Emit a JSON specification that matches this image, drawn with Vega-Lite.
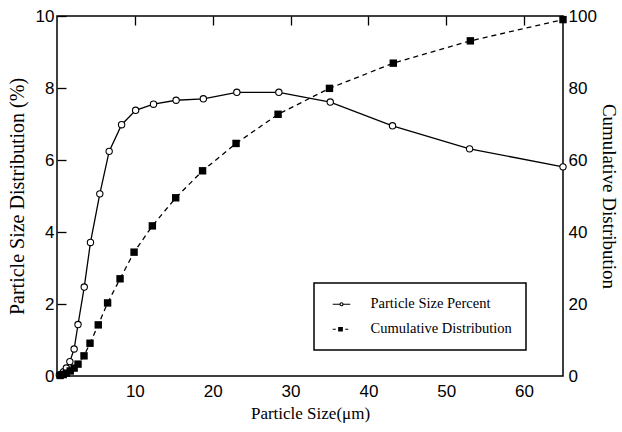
{
  "$schema": "https://vega.github.io/schema/vega-lite/v6.json",
  "width": 506,
  "height": 360,
  "autosize": {"type": "none"},
  "padding": {"left": 57, "top": 16, "right": 59, "bottom": 56},
  "background": "white",
  "config": {
    "view": {"stroke": "black", "strokeWidth": 1.5},
    "axis": {
      "grid": true,
      "gridColor": "black",
      "gridWidth": 1.3,
      "gridOpacity": 1,
      "domain": false,
      "ticks": false,
      "labelColor": "black",
      "titleColor": "black",
      "labelFont": "Liberation Sans",
      "labelFontSize": 17,
      "titleFont": "Liberation Serif",
      "titleFontWeight": "normal"
    },
    "legend": {"strokeWidth": 1.5}
  },
  "data": {
    "values": [
      {"series": "Particle Size Percent", "size": 0.3, "value": 0.03},
      {"series": "Particle Size Percent", "size": 0.6, "value": 0.06},
      {"series": "Particle Size Percent", "size": 0.85, "value": 0.12},
      {"series": "Particle Size Percent", "size": 1.2, "value": 0.22},
      {"series": "Particle Size Percent", "size": 1.65, "value": 0.4},
      {"series": "Particle Size Percent", "size": 2.2, "value": 0.75},
      {"series": "Particle Size Percent", "size": 2.7, "value": 1.43},
      {"series": "Particle Size Percent", "size": 3.5, "value": 2.47},
      {"series": "Particle Size Percent", "size": 4.3, "value": 3.71},
      {"series": "Particle Size Percent", "size": 5.5, "value": 5.06},
      {"series": "Particle Size Percent", "size": 6.7, "value": 6.24},
      {"series": "Particle Size Percent", "size": 8.3, "value": 6.98},
      {"series": "Particle Size Percent", "size": 10.1, "value": 7.38},
      {"series": "Particle Size Percent", "size": 12.4, "value": 7.55},
      {"series": "Particle Size Percent", "size": 15.3, "value": 7.66},
      {"series": "Particle Size Percent", "size": 18.8, "value": 7.7},
      {"series": "Particle Size Percent", "size": 23.1, "value": 7.88},
      {"series": "Particle Size Percent", "size": 28.5, "value": 7.88},
      {"series": "Particle Size Percent", "size": 35.1, "value": 7.61},
      {"series": "Particle Size Percent", "size": 43.1, "value": 6.95},
      {"series": "Particle Size Percent", "size": 53.0, "value": 6.31},
      {"series": "Particle Size Percent", "size": 65.0, "value": 5.81},
      {"series": "Cumulative Distribution", "size": 0.4, "value": 0.15},
      {"series": "Cumulative Distribution", "size": 0.8, "value": 0.4},
      {"series": "Cumulative Distribution", "size": 1.2, "value": 0.8},
      {"series": "Cumulative Distribution", "size": 1.7, "value": 1.4},
      {"series": "Cumulative Distribution", "size": 2.2, "value": 2.2},
      {"series": "Cumulative Distribution", "size": 2.7, "value": 3.3},
      {"series": "Cumulative Distribution", "size": 3.47, "value": 5.6},
      {"series": "Cumulative Distribution", "size": 4.24, "value": 9.1},
      {"series": "Cumulative Distribution", "size": 5.3, "value": 14.2},
      {"series": "Cumulative Distribution", "size": 6.5, "value": 20.3},
      {"series": "Cumulative Distribution", "size": 8.1, "value": 27.0},
      {"series": "Cumulative Distribution", "size": 9.9, "value": 34.4},
      {"series": "Cumulative Distribution", "size": 12.25, "value": 41.7},
      {"series": "Cumulative Distribution", "size": 15.25, "value": 49.5},
      {"series": "Cumulative Distribution", "size": 18.7, "value": 57.0},
      {"series": "Cumulative Distribution", "size": 23.0, "value": 64.6},
      {"series": "Cumulative Distribution", "size": 28.4, "value": 72.7},
      {"series": "Cumulative Distribution", "size": 35.0, "value": 79.9},
      {"series": "Cumulative Distribution", "size": 43.2, "value": 86.9},
      {"series": "Cumulative Distribution", "size": 53.1, "value": 93.1},
      {"series": "Cumulative Distribution", "size": 65.0, "value": 99.0}
    ]
  },
  "layer": [
    {
      "transform": [{"filter": "datum.series === 'Particle Size Percent'"}],
      "mark": {"type": "line", "color": "black", "strokeWidth": 1.3},
      "encoding": {
        "x": {"field": "size", "type": "quantitative", "scale": {"domain": [0, 65], "nice": false},
          "axis": {"orient": "bottom", "values": [10, 20, 30, 40, 50, 60], "gridDash": [9, 1000], "labelPadding": 7, "title": "Particle Size(μm)", "titleFontSize": 17, "titlePadding": 6}},
        "y": {"field": "value", "type": "quantitative", "scale": {"domain": [0, 10], "nice": false},
          "axis": {"orient": "left", "values": [0, 2, 4, 6, 8, 10], "gridDash": [9, 1000], "labelPadding": 3, "title": "Particle Size Distribution (%)", "titleFontSize": 20, "titlePadding": 8}}
      }
    },
    {
      "transform": [{"filter": "datum.series === 'Particle Size Percent'"}],
      "mark": {"type": "point", "shape": "circle", "filled": true, "fill": "white", "stroke": "black", "strokeWidth": 1.1, "size": 40, "opacity": 1},
      "encoding": {
        "x": {"field": "size", "type": "quantitative", "scale": {"domain": [0, 65], "nice": false},
          "axis": {"orient": "bottom", "values": [5, 15, 25, 35, 45, 55], "gridDash": [5, 1000], "labels": false, "title": null}},
        "y": {"field": "value", "type": "quantitative", "scale": {"domain": [0, 10], "nice": false},
          "axis": {"orient": "left", "values": [1, 3, 5, 7, 9], "gridDash": [5, 1000], "labels": false, "title": null}}
      }
    },
    {
      "transform": [{"filter": "datum.series === 'Cumulative Distribution'"}],
      "mark": {"type": "line", "color": "black", "strokeWidth": 1.3, "strokeDash": [5, 4]},
      "encoding": {
        "x": {"field": "size", "type": "quantitative", "scale": {"domain": [0, 65], "nice": false},
          "axis": {"orient": "top", "values": [10, 20, 30, 40, 50, 60], "gridDash": [9, 1000], "labels": false, "title": null}},
        "y": {"field": "value", "type": "quantitative", "scale": {"domain": [0, 100], "nice": false},
          "axis": {"orient": "right", "values": [0, 20, 40, 60, 80, 100], "gridDash": [9, 1000], "labelPadding": 5, "title": "Cumulative Distribution", "titleFontSize": 19, "titlePadding": 2}}
      }
    },
    {
      "transform": [{"filter": "datum.series === 'Cumulative Distribution'"}],
      "mark": {"type": "point", "shape": "square", "filled": true, "color": "black", "size": 55, "opacity": 1},
      "encoding": {
        "x": {"field": "size", "type": "quantitative", "scale": {"domain": [0, 65], "nice": false},
          "axis": {"orient": "top", "values": [5, 15, 25, 35, 45, 55], "gridDash": [5, 1000], "labels": false, "title": null}},
        "y": {"field": "value", "type": "quantitative", "scale": {"domain": [0, 100], "nice": false},
          "axis": {"orient": "right", "values": [10, 30, 50, 70, 90], "gridDash": [5, 1000], "labels": false, "title": null}}
      }
    },
    {
      "mark": {"type": "point", "opacity": 0, "stroke": "black", "strokeWidth": 1},
      "encoding": {
        "x": {"field": "size", "type": "quantitative", "scale": {"domain": [0, 65], "nice": false}, "axis": null},
        "y": {"field": "value", "type": "quantitative", "scale": {"domain": [0, 100], "nice": false}, "axis": null},
        "shape": {
          "field": "series", "type": "nominal",
          "scale": {"domain": ["Particle Size Percent", "Cumulative Distribution"],
            "range": ["M-0.5,0H0.95M1.55,0H3.0M0.95,0A0.3,0.3 0 1 1 1.55,0A0.3,0.3 0 1 1 0.95,0Z",
                      "M-0.5,0H0.1M0.7,-0.35H1.4V0.35H0.7ZM2.0,0H2.6"]},
          "legend": {
            "orient": "none", "legendX": 257, "legendY": 267, "title": null,
            "fillColor": "white", "strokeColor": "black",
            "padding": 14, "rowPadding": 10, "labelOffset": 28,
            "labelFont": "Liberation Serif", "labelFontSize": 14.5, "labelColor": "black",
            "symbolSize": 100, "symbolOpacity": 1, "symbolStrokeColor": "black", "symbolStrokeWidth": 1.1,
            "encode": {"symbols": {"update": {"stroke": {"value": "black"}, "strokeWidth": {"value": 1.2}, "strokeOpacity": {"value": 1}, "opacity": {"value": 1}}}}
          }
        },
        "fill": {
          "field": "series", "type": "nominal",
          "scale": {"domain": ["Particle Size Percent", "Cumulative Distribution"], "range": ["white", "black"]},
          "legend": {
            "orient": "none", "legendX": 257, "legendY": 267, "title": null,
            "fillColor": "white", "strokeColor": "black",
            "padding": 14, "rowPadding": 10, "labelOffset": 28,
            "labelFont": "Liberation Serif", "labelFontSize": 14.5, "labelColor": "black",
            "symbolSize": 100, "symbolOpacity": 1, "symbolStrokeColor": "black", "symbolStrokeWidth": 1.1,
            "encode": {"symbols": {"update": {"stroke": {"value": "black"}, "strokeWidth": {"value": 1.2}, "strokeOpacity": {"value": 1}, "opacity": {"value": 1}}}}
          }
        }
      }
    }
  ],
  "resolve": {"scale": {"y": "independent"}, "axis": {"x": "independent", "y": "independent"}}
}
